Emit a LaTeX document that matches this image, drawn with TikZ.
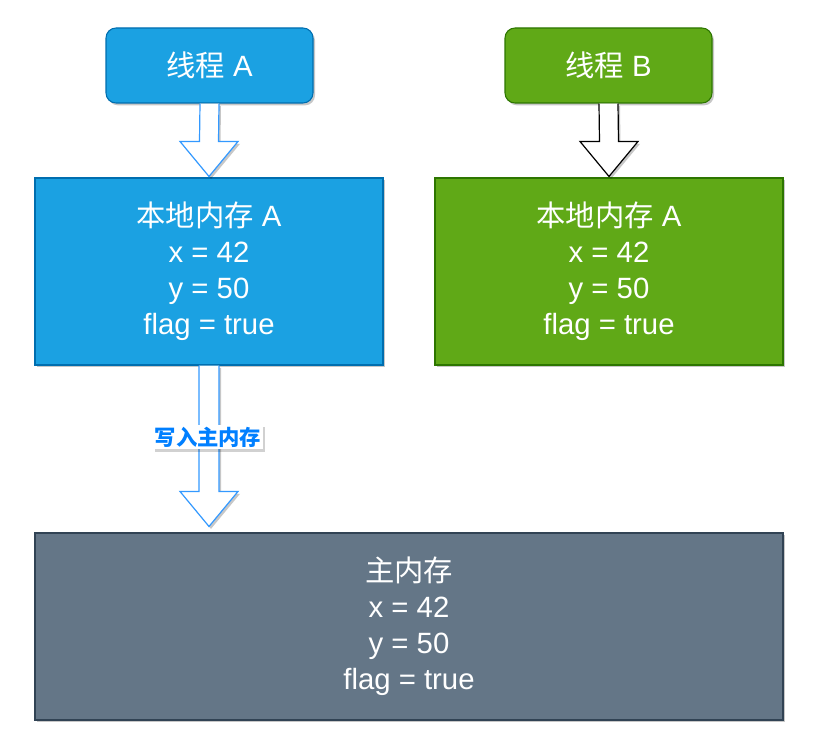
\documentclass[tikz,border=0pt]{standalone}
\usepackage{fontspec}
\setmainfont{Liberation Sans}
\newfontfamily\cjk{Noto Sans CJK SC}
\usetikzlibrary{calc,shadows}
\definecolor{blueF}{HTML}{1BA1E2}
\definecolor{blueS}{HTML}{006EAF}
\definecolor{greenF}{HTML}{60A917}
\definecolor{greenS}{HTML}{2D7600}
\definecolor{greyF}{HTML}{647687}
\definecolor{greyS}{HTML}{314354}
\definecolor{arrowBlue}{HTML}{3399FF}
\definecolor{labelBlue}{HTML}{007FFF}
\begin{document}
\begin{tikzpicture}[x=0.75pt,y=-0.75pt,
  softshadow/.style={drop shadow={shadow xshift=1.5pt,shadow yshift=-1.8pt,opacity=0.22,fill=black}},
  box/.style={draw,line width=0.8pt,inner sep=0pt,text=white,align=center,
    font=\fontsize{22}{27}\selectfont,softshadow},
  threadbox/.style={box,rounded corners=7.5pt,minimum width={207*0.75pt},minimum height={75*0.75pt}},
  membox/.style={box,minimum width={348*0.75pt},minimum height={187*0.75pt}},
  mainbox/.style={box,minimum width={748*0.75pt},minimum height={187*0.75pt}},
  fatarrow/.style={draw,fill=white,line width=0.9pt,line join=miter,softshadow},
  lbl/.style={font=\cjk\bfseries\fontsize{16}{18}\selectfont,text=labelBlue,fill=white,inner sep=1.5pt,
    drop shadow={shadow xshift=1.5pt,shadow yshift=-1.8pt,opacity=0.18,fill=black}}]
\useasboundingbox (0,0) rectangle (819,735);

\node[threadbox,fill=blueF,draw=blueS] (tA) at (209.5,65.5) {{\cjk 线程} A};
\node[threadbox,fill=greenF,draw=greenS] (tB) at (608.5,65.5) {{\cjk 线程} B};

\node[membox,fill=blueF,draw=blueS] (mA) at (209,271.5) {{\cjk 本地内存} A\\x = 42\\y = 50\\flag = true};
\node[membox,fill=greenF,draw=greenS] (mB) at (609,271.5) {{\cjk 本地内存} A\\x = 42\\y = 50\\flag = true};

\node[mainbox,fill=greyF,draw=greyS] (main) at (409,626.5) {{\cjk 主内存}\\x = 42\\y = 50\\flag = true};

% arrow thread A -> local A
\path[fatarrow,draw=arrowBlue]
  ($(tA.south)+(-9.5,0)$) -- ($(mA.north)+(-9.5,-36)$) -- ($(mA.north)+(-29,-36)$)
  -- ($(mA.north)+(0,-1)$) -- ($(mA.north)+(29,-36)$) -- ($(mA.north)+(9.5,-36)$)
  -- ($(tA.south)+(9.5,0)$);
% arrow thread B -> local B
\path[fatarrow,draw=black]
  ($(tB.south)+(-9.5,0)$) -- ($(mB.north)+(-9.5,-36)$) -- ($(mB.north)+(-29,-36)$)
  -- ($(mB.north)+(0,-1)$) -- ($(mB.north)+(29,-36)$) -- ($(mB.north)+(9.5,-36)$)
  -- ($(tB.south)+(9.5,0)$);
% arrow local A -> main
\coordinate (mainTop) at (mA.south |- main.north);
\path[fatarrow,draw=arrowBlue]
  ($(mA.south)+(-10,0)$) -- ($(mainTop)+(-10,-41)$) -- ($(mainTop)+(-29,-41)$)
  -- ($(mainTop)+(0,-6)$) -- ($(mainTop)+(29,-41)$) -- ($(mainTop)+(10,-41)$)
  -- ($(mA.south)+(10,0)$);
\node[lbl] (wl) at (208,437) {写入主内存};
\end{tikzpicture}
\end{document}
